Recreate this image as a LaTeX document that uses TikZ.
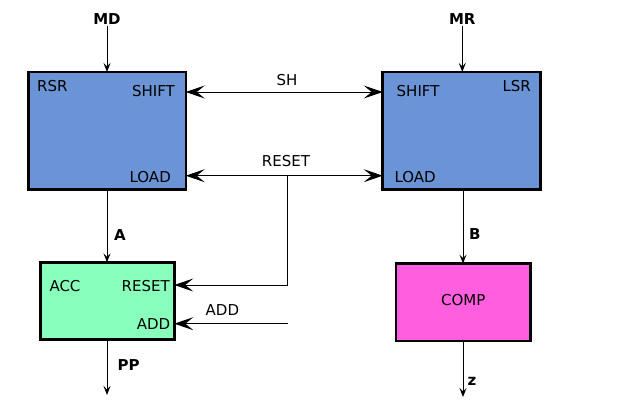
\documentclass[tikz,border=0pt]{standalone}
\usepackage{fontspec}
\setmainfont{DejaVu Sans}
\usetikzlibrary{arrows.meta}
\definecolor{regblue}{RGB}{106,148,213}
\definecolor{accgreen}{RGB}{136,255,187}
\definecolor{compmag}{RGB}{255,95,223}
\tikzset{
  regbox/.style={draw=black, line width=2.5pt, inner sep=0pt, outer sep=0pt},
  port/.style={inner sep=0pt, font=\fontsize{15}{18}\selectfont},
  sig/.style={inner sep=0pt, font=\fontsize{15}{18}\selectfont\bfseries},
  wire/.style={draw=black, line width=0.9pt},
  bigtip/.style={wire, -{Stealth[length=19pt, width=13pt, inset=8pt]}},
  bigboth/.style={wire, {Stealth[length=19pt, width=13pt, inset=8pt]}-{Stealth[length=19pt, width=13pt, inset=8pt]}},
  smalltip/.style={wire, -{Stealth[length=9pt, width=7pt, inset=3.5pt]}}
}
\begin{document}
\begin{tikzpicture}[x=1pt, y=-1pt]
\useasboundingbox (0,0) rectangle (626,416);
% boxes
\node[regbox, fill=regblue, minimum width=157.5pt, minimum height=117.5pt] (rsr) at (107,130.7) {};
\node[regbox, fill=regblue, minimum width=158pt, minimum height=117.5pt] (lsr) at (461.7,130.7) {};
\node[regbox, fill=accgreen, minimum width=134pt, minimum height=77pt] (acc) at (107.3,300.8) {};
\node[regbox, fill=compmag, minimum width=134.8pt, minimum height=77.5pt] (comp) at (463.3,302.3) {};
% box texts
\node[port, anchor=base west] (rsrname) at (37,91.5) {RSR};
\node[port, anchor=base east] (rsrshift) at (175,96.5) {SHIFT};
\node[port, anchor=base east] (rsrload) at (171,182) {LOAD};
\node[port, anchor=base east] (lsrname) at (531,91) {LSR};
\node[port, anchor=base west] (lsrshift) at (396.5,96.5) {SHIFT};
\node[port, anchor=base west] (lsrload) at (394.3,182) {LOAD};
\node[port, anchor=base west] (accname) at (49.3,291) {ACC};
\node[port, anchor=base east] (accreset) at (170,291) {RESET};
\node[port, anchor=base east] (accadd) at (170.5,329) {ADD};
\node[port, anchor=base] (compname) at (463.3,305) {COMP};
% signal labels
\node[sig, anchor=base] (md) at (107,24) {MD};
\node[sig, anchor=base] (mr) at (462.3,24) {MR};
\node[port, anchor=base] (shl) at (287,85) {SH};
\node[port, anchor=base] (resetl) at (286,166.5) {RESET};
\node[port, anchor=base west] (addl) at (205.5,315) {ADD};
\node[sig, anchor=base west] (al) at (114,240) {A};
\node[sig, anchor=base west] (ppl) at (117.5,370) {PP};
\node[sig, anchor=base west] (bl) at (469,239) {B};
\node[sig, anchor=base west] (zl) at (467.5,385) {z};
% coordinates
\coordinate (shy) at (0,92);
\coordinate (resety) at (0,175.7);
\coordinate (rjunc) at (287,175.7);
\coordinate (accry) at (0,285);
\coordinate (addsrc) at (288,323.7);
\coordinate (ppend) at (107,395);
\coordinate (zend) at (463,397);
% connectors
\draw[smalltip] (md.south |- 0,26) -- (rsr.north);
\draw[smalltip] (mr.south |- 0,26) -- (lsr.north -| mr.south);
\draw[bigboth] (rsr.east |- shy) -- (lsr.west |- shy);
\draw[bigboth] (rsr.east |- resety) -- (lsr.west |- resety);
\draw[bigtip] (rjunc) |- (acc.east |- accry);
\draw[bigtip] (addsrc) -- (acc.east |- addsrc);
\draw[smalltip] (rsr.south) -- (rsr.south |- acc.north);
\draw[smalltip] (acc.south -| rsr.south) -- (ppend);
\draw[smalltip] (lsr.south -| zend) -- (comp.north -| zend);
\draw[smalltip] (comp.south -| zend) -- (zend);
\end{tikzpicture}
\end{document}
